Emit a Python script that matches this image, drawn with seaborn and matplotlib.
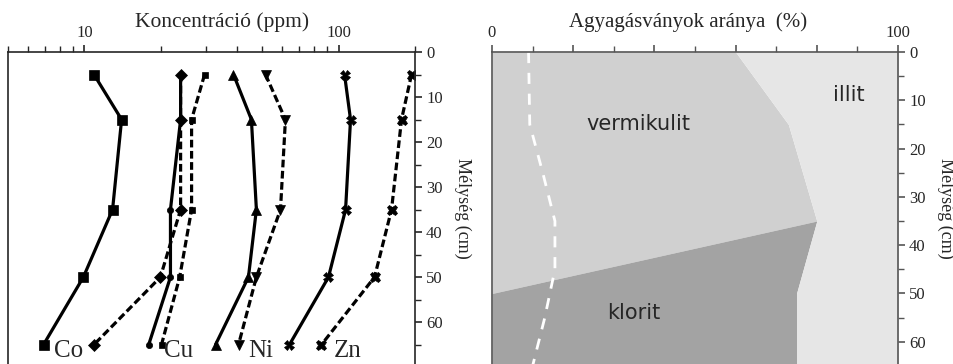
import matplotlib
matplotlib.use('Agg')
import matplotlib.pyplot as plt
import numpy as np
import pandas as pd
import seaborn as sns

# -----------------------------------------------------------------------------
#         Data
# -----------------------------------------------------------------------------
depth = [5, 15, 35, 50, 65]                       # sample depths (cm)

co_a = [10.9, 14.0, 12.9, 9.9, 6.9]               # Co, solid
co_b = [23.9, 23.9, 23.9, 19.9, 10.9]             # Co, dashed
cu_a = [23.9, 23.9, 21.8, 21.8, 17.9]             # Cu, solid
cu_b = [29.7, 26.4, 26.4, 23.7, 20.1]             # Cu, dashed
ni_a = [38.6, 45.4, 47.5, 44.2, 32.8]             # Ni, solid
ni_b = [51.6, 61.8, 59.1, 47.5, 40.4]             # Ni, dashed
zn_a = [105.6, 111.5, 106.6, 91.3, 64.1]          # Zn, solid
zn_b = [193.8, 177.0, 161.7, 138.6, 85.7]         # Zn, dashed

elements = ['Co', 'Cu', 'Ni', 'Zn']

# clay minerals, stacked from left to right (%)
mdepth = [0, 15, 35, 50, 65]
vermikulit = [60, 73, 80, 0, 0]
klorit = [0, 0, 0, 75, 75]
illit = [40, 27, 20, 25, 25]

# white dashed curve
wdepth = [0, 15, 25, 35, 45, 55, 65]
wline = [9, 9.3, 12.5, 15.5, 15.5, 13, 10]

# -----------------------------------------------------------------------------
#         Styling
# -----------------------------------------------------------------------------
sns.set_style('ticks')
plt.rcParams['font.family'] = ['Liberation Serif', 'DejaVu Serif']
plt.rcParams['axes.linewidth'] = 1.2

W, H = 954, 364
fig = plt.figure(figsize=(W/100, H/100), dpi=100)
ax1 = fig.add_axes([8/W, 0, (415-8)/W, 1 - 52/H])
ax2 = fig.add_axes([492/W, 0, (898-492)/W, 1 - 52/H])

# ---- left panel: concentrations ----
series = [
    # values, marker, size, dashed
    (co_a, 's', 7, False),
    (cu_a, 'o', 4.5, False),
    (co_b, 'D', 6, True),
    (cu_b, 's', 4, True),
    (ni_a, '^', 7, False),
    (ni_b, 'v', 7, True),
    (zn_a, 'X', 7, False),
    (zn_b, 'X', 7.5, True),
]
for vals, mk, ms, dashed in series:
    df = pd.DataFrame({'ppm': vals, 'depth': depth})
    sns.lineplot(data=df, x='ppm', y='depth', orient='y', estimator=None,
                 color='k', lw=2.3, marker=mk, ms=ms, mec='k', mew=0.5,
                 ax=ax1, legend=False)
    if dashed:
        ax1.lines[-1].set_dashes([2.4, 1.1])

ax1.set_xscale('log')
ax1.set_xlim(5, 200)
ax1.set_ylim(69.3, 0)
ax1.xaxis.tick_top()
ax1.xaxis.set_label_position('top')
ax1.yaxis.tick_right()
ax1.yaxis.set_label_position('right')
ax1.set_xticks([10, 100], ['10', '100'])
ax1.xaxis.set_minor_formatter(matplotlib.ticker.NullFormatter())
ax1.set_yticks(np.arange(0, 70, 10))
ax1.set_yticks(np.arange(5, 70, 10), minor=True)
ax1.tick_params(which='major', length=5, width=1.2, labelsize=12, pad=3)
ax1.tick_params(which='minor', length=4, width=1.0)
ax1.spines['bottom'].set_visible(False)
ax1.set_xlabel('Koncentráció (ppm)', fontsize=15.5)
ax1.xaxis.set_label_coords(0.526, 1.0 + 25/312)
ax1.set_ylabel('Mélység (cm)', fontsize=13, rotation=270, va='bottom',
               labelpad=8)

for name, xpos in zip(elements, [7.6, 20.6, 44.0, 96.0]):
    ax1.text(xpos, 66.4, name, fontsize=18, va='center', ha='left')

# ---- right panel: clay minerals ----
vk = np.add(vermikulit, klorit)
ax2.fill_betweenx(mdepth, 0, vermikulit, color='#d0d0d0', lw=0)
ax2.fill_betweenx(mdepth, vermikulit, vk, color='#a3a3a3', lw=0)
ax2.fill_betweenx(mdepth, vk, vk + np.array(illit), color='#e6e6e6', lw=0)

wf = pd.DataFrame({'pct': wline, 'depth': wdepth})
sns.lineplot(data=wf, x='pct', y='depth', orient='y', estimator=None,
             color='white', lw=2, ax=ax2, legend=False)
ax2.lines[-1].set_dashes([4, 3.5])

ax2.set_xlim(0, 100)
ax2.set_ylim(64.6, 0)
ax2.xaxis.tick_top()
ax2.xaxis.set_label_position('top')
ax2.yaxis.tick_right()
ax2.yaxis.set_label_position('right')
ax2.set_xticks(np.arange(0, 101, 20), ['0', '', '', '', '', '100'])
ax2.set_xticks(np.arange(10, 100, 20), minor=True)
ax2.set_yticks(np.arange(0, 70, 10))
ax2.set_yticks(np.arange(5, 65, 10), minor=True)
ax2.tick_params(which='major', length=5, width=1.2, labelsize=12, pad=3,
                color='#555555')
ax2.tick_params(which='minor', length=4, width=1.0, color='#555555')
for s in ['top', 'left', 'right']:
    ax2.spines[s].set_color('#555555')
ax2.spines['bottom'].set_visible(False)
ax2.set_xlabel('Agyagásványok aránya  (%)', fontsize=15)
ax2.xaxis.set_label_coords(0.483, 1.0 + 25/312)
ax2.set_ylabel('Mélység (cm)', fontsize=13, rotation=270, va='bottom',
               labelpad=8)

sans = ['DejaVu Sans']
ax2.text(88, 9, 'illit', fontsize=15, ha='center', va='center', family=sans)
ax2.text(36, 15, 'vermikulit', fontsize=15, ha='center', va='center',
         family=sans)
ax2.text(35, 54, 'klorit', fontsize=15, ha='center', va='center', family=sans)

fig.savefig('out.png', dpi=100)
